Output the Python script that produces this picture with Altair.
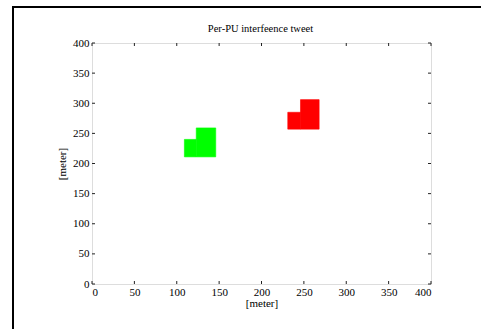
import altair as alt
import pandas as pd

# cells of the two user regions (meters)
series = ["green", "green", "red", "red"]
x_start = [109, 123, 231, 246]
x_end = [123, 146, 246, 268]
y_start = [211, 211, 257, 257]
y_end = [240, 259, 285, 306]
tick_values = [0, 50, 100, 150, 200, 250, 300, 350, 400]
title_text = ["Per-PU interfeence tweet"]

W, H = 339, 241
SERIF = "Times New Roman, Liberation Serif, DejaVu Serif, serif"

cells = pd.DataFrame({"s": series, "x": x_start, "x2": x_end, "y": y_start, "y2": y_end})
ticks = pd.DataFrame({"t": tick_values})
titles = pd.DataFrame({"txt": title_text})

xscale = alt.Scale(domain=[0, 400], nice=False)
yscale = alt.Scale(domain=[0, 400], nice=False)

xaxis = alt.Axis(values=tick_values, title="[meter]", labelPadding=2, titlePadding=0)
yaxis = alt.Axis(values=tick_values, title="[meter]", labelPadding=3, titlePadding=5)

cscale = alt.Scale(domain=["green", "red"], range=["#00ff00", "#ff0000"])
rects = alt.Chart(cells).mark_rect(strokeWidth=0.6).encode(
    x=alt.X("x:Q", scale=xscale, axis=xaxis),
    x2="x2:Q",
    y=alt.Y("y:Q", scale=yscale, axis=yaxis),
    y2="y2:Q",
    color=alt.Color("s:N", scale=cscale, legend=None),
    stroke=alt.Stroke("s:N", scale=cscale, legend=None),
)

tb = alt.Chart(ticks).mark_rule(color="#222", strokeWidth=1).encode(
    x=alt.X("t:Q", scale=xscale, axis=xaxis), y=alt.value(H), y2=alt.value(H - 3))
tt = alt.Chart(ticks).mark_rule(color="#222", strokeWidth=1).encode(
    x=alt.X("t:Q", scale=xscale, axis=xaxis), y=alt.value(0), y2=alt.value(3))
tl = alt.Chart(ticks).mark_rule(color="#222", strokeWidth=1).encode(
    y=alt.Y("t:Q", scale=yscale, axis=yaxis), x=alt.value(0), x2=alt.value(3))
tr = alt.Chart(ticks).mark_rule(color="#222", strokeWidth=1).encode(
    y=alt.Y("t:Q", scale=yscale, axis=yaxis), x=alt.value(W), x2=alt.value(W - 3))

frame = alt.Chart(titles).mark_rect(fill=None, stroke="#000", strokeWidth=2, clip=False).encode(
    x=alt.value(-79), x2=alt.value(420), y=alt.value(-36), y2=alt.value(300))

title = alt.Chart(titles).mark_text(font=SERIF, fontSize=10.5, color="#000",
                                    align="center", baseline="bottom").encode(
    text="txt:N", x=alt.value(W / 2 - 1), y=alt.value(-9))

chart = alt.layer(frame, rects, tb, tt, tl, tr, title).properties(
    width=W, height=H,
    autosize=alt.AutoSizeParams(type="none"),
    padding={"left": 92, "top": 43, "right": 50, "bottom": 45},
).configure_view(stroke="#222", strokeWidth=1).configure(
    background="white", font=SERIF
).configure_axis(
    tickSize=0, domain=False, grid=False, labelOverlap=False,
    labelFont=SERIF, labelFontSize=11, labelColor="#000",
    titleFont=SERIF, titleFontSize=11, titleFontWeight="normal", titleColor="#000",
)

chart.save("out.html", embed_options={"renderer": "svg", "actions": False})
